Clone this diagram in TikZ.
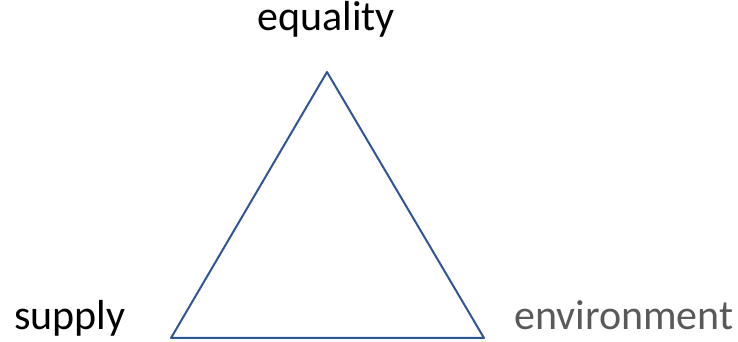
\documentclass[tikz,border=0pt]{standalone}
\usepackage{fontspec}
\setmainfont{Carlito}
\definecolor{edgeblue}{HTML}{2F5597}
\definecolor{labelgray}{HTML}{595959}
\begin{document}
\begin{tikzpicture}[x=1pt, y=1pt, line join=round, line cap=round]
	\useasboundingbox (0,0) rectangle (738,342);
	\tikzset{
		corner/.style={inner sep=0pt, font=\fontsize{42}{48}\selectfont}
	}
	\path
	(327,270)coordinate(top)
	(171,4)coordinate(left)
	(484,4)coordinate(right)
	;
	\draw[line width=2pt, edgeblue] (top) -- (left) -- (right) -- cycle;
	\node[corner, anchor=base] (equality) at (326,311) {equality};
	\node[corner, anchor=base west] (supply) at (14,12) {supply};
	\node[corner, anchor=base west, labelgray] (environment) at (514,12) {environment};
\end{tikzpicture}
\end{document}
